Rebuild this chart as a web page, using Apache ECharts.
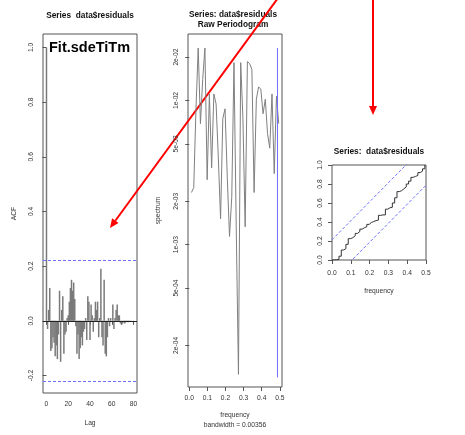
<!DOCTYPE html>
<html>
<head>
<meta charset="utf-8">
<script src="https://cdn.jsdelivr.net/npm/echarts@6.0.0/dist/echarts.min.js"></script>
<style>
	html, body { margin: 0; padding: 0; background: #fff; }
	#mychart { width: 465px; height: 435px; }
</style>
</head>
<body>
<div id="mychart"></div>
<script>
// ACF of the residuals, lag 0..80
var acfVal = [
	1.00, -0.03, 0.04, 0.12, -0.11, -0.10, -0.06, -0.08, -0.13, -0.09,
	-0.14, -0.05, 0.11, -0.15, 0.04, 0.09, -0.12, -0.05, -0.04, 0.01,
	0.02, 0.07, 0.12, 0.15, 0.11, 0.14, 0.08, -0.02, -0.12, -0.05,
	-0.14, -0.10, -0.06, -0.09, -0.04, -0.03, 0.01, -0.07, 0.09, 0.07,
	-0.07, 0.06, 0.02, -0.04, 0.01, 0.07, 0.04, 0.07, -0.06, 0.01,
	0.19, -0.06, -0.09, 0.15, -0.12, -0.13, -0.06, 0.01, -0.02, 0.01,
	0.00, 0.06, -0.03, 0.01, 0.04, 0.06, 0.02, 0.02, -0.01, -0.015,
	-0.01, -0.005, -0.01, -0.005, -0.003, -0.005, -0.002, -0.003, -0.001, 0.0, 0.0
];
var acfCI = 0.218;
var acfTicksX = [0, 20, 40, 60, 80];
var acfTicksY = [-0.2, 0, 0.2, 0.4, 0.6, 0.8, 1.0];

// raw periodogram
var specFreq = [
	0.0123, 0.0247, 0.0370, 0.0494, 0.0617, 0.0741, 0.0864, 0.0988, 0.1111, 0.1235,
	0.1358, 0.1481, 0.1605, 0.1728, 0.1852, 0.1975, 0.2099, 0.2222, 0.2346, 0.2469,
	0.2593, 0.2716, 0.2840, 0.2963, 0.3086, 0.3210, 0.3333, 0.3457, 0.3580, 0.3704,
	0.3827, 0.3951, 0.4074, 0.4198, 0.4321, 0.4444, 0.4568, 0.4691, 0.4815, 0.4938
];
var specVal = [
	0.00230, 0.00249, 0.00875, 0.0231, 0.00691, 0.0140, 0.0231, 0.00282, 0.0111, 0.00341,
	0.0111, 0.00946, 0.00399, 0.00151, 0.00748, 0.00875, 0.00292, 0.00114, 0.00213, 0.0183,
	0.00133, 0.000126, 0.0183, 0.00748, 0.00133, 0.0186, 0.0180, 0.0164, 0.00230, 0.0102,
	0.0124, 0.0120, 0.00809, 0.0102, 0.00590, 0.00467, 0.0111, 0.00311, 0.0107, 0.00691
];
var specTicksY = [2e-4, 5e-4, 1e-3, 2e-3, 5e-3, 1e-2, 2e-2];
var specTicksX = [0, 0.1, 0.2, 0.3, 0.4, 0.5];
var specCI = { x: 0.487, low: 0.000120, high: 0.0231 };

// cumulative periodogram
var cpFreq = [0].concat(specFreq);
var cpVal = [
	0, 0.003, 0.007, 0.04, 0.105, 0.12, 0.165, 0.225, 0.235, 0.255,
	0.28, 0.30, 0.325, 0.34, 0.35, 0.375, 0.395, 0.405, 0.415, 0.42,
	0.47, 0.475, 0.475, 0.535, 0.55, 0.555, 0.60, 0.655, 0.72, 0.73,
	0.75, 0.77, 0.80, 0.83, 0.87, 0.88, 0.89, 0.92, 0.935, 0.96, 1.0
];
var cpCrit = 0.213;

var FONT = '"Liberation Sans", Arial, sans-serif';
var BLUE = '#6f6fff';
var labelStyle = { fontFamily: FONT, fontSize: 6.7, color: '#333' };

function fmtExp(v) {
	var s = Math.pow(10, v).toExponential(0);
	return s.replace(/e([+-])(\d)$/, 'e$10$2');
}

function axisBase(extra) {
	var o = {
		type: 'value',
		axisLine: { show: false },
		axisTick: { show: true, inside: false, length: 4, lineStyle: { color: '#555' } },
		splitLine: { show: false },
		axisLabel: Object.assign({ margin: 7 }, labelStyle),
		nameTextStyle: labelStyle,
		nameLocation: 'middle'
	};
	return echarts.util.merge(o, extra, true);
}

function arrow(x1, y1, x2, y2) {
	var dx = x2 - x1, dy = y2 - y1;
	var len = Math.sqrt(dx * dx + dy * dy);
	var ux = dx / len, uy = dy / len;
	var hl = 9, hw = 4;
	var bx = x2 - ux * hl, by = y2 - uy * hl;
	return [{
		type: 'line',
		shape: { x1: x1, y1: y1, x2: bx, y2: by },
		style: { stroke: '#ff0000', lineWidth: 2 }
	}, {
		type: 'polygon',
		shape: { points: [[x2, y2], [bx + uy * hw, by - ux * hw], [bx - uy * hw, by + ux * hw]] },
		style: { fill: '#ff0000' }
	}];
}

function title(text, x, y) {
	return {
		type: 'text', x: x, y: y,
		style: {
			text: text, textAlign: 'center', textVerticalAlign: 'middle',
			align: 'center', verticalAlign: 'middle',
			font: 'bold 8.3px ' + FONT, fill: '#111'
		}
	};
}

var chart = echarts.init(document.getElementById('mychart'), null, { renderer: 'canvas' });

var option = {
	animation: false,
	backgroundColor: '#fff',
	grid: [
		{ left: 43, top: 34, width: 94, height: 359, show: true, borderColor: '#555', borderWidth: 1 },
		{ left: 188, top: 34, width: 94, height: 359, show: true, borderColor: '#555', borderWidth: 1 },
		{ left: 332, top: 165, width: 94, height: 95, show: true, borderColor: '#555', borderWidth: 1 }
	],
	xAxis: [
		axisBase({
			gridIndex: 0, min: -3.2, max: 83.2, name: 'Lag', nameGap: 25,
			axisTick: { customValues: acfTicksX },
			axisLabel: { customValues: acfTicksX, margin: 8 }
		}),
		axisBase({
			gridIndex: 1, min: -0.007, max: 0.512, name: 'frequency\nbandwidth = 0.00356', nameGap: 23,
			nameTextStyle: { lineHeight: 10 },
			axisTick: { customValues: specTicksX },
			axisLabel: { customValues: specTicksX, margin: 8, formatter: function(v) { return v.toFixed(1); } }
		}),
		axisBase({
			gridIndex: 2, min: 0, max: 0.5, interval: 0.1, name: 'frequency', nameGap: 26,
			axisLabel: { margin: 8, formatter: function(v) { return v.toFixed(1); } }
		})
	],
	yAxis: [
		axisBase({
			gridIndex: 0, min: -0.264, max: 1.049, name: 'ACF', nameGap: 24,
			axisTick: { customValues: acfTicksY },
			axisLabel: { customValues: acfTicksY, rotate: 90, formatter: function(v) { return v.toFixed(1); } }
		}),
		axisBase({
			gridIndex: 1, min: Math.log10(1.03e-4), max: Math.log10(0.0289), name: 'spectrum', nameGap: 25,
			axisTick: { customValues: specTicksY.map(Math.log10) },
			axisLabel: { customValues: specTicksY.map(Math.log10), rotate: 90, formatter: fmtExp }
		}),
		axisBase({
			gridIndex: 2, min: 0, max: 1, interval: 0.2, axisLabel: { rotate: 90, formatter: function(v) { return v.toFixed(1); } }
		})
	],
	series: [
		{
			name: 'acf',
			type: 'bar',
			xAxisIndex: 0, yAxisIndex: 0,
			barWidth: 1.5,
			itemStyle: { color: '#7a7a7a' },
			data: acfVal.map(function(v, i) { return [i, v]; }),
			markLine: {
				silent: true, symbol: 'none', label: { show: false },
				data: [
					{ yAxis: 0, lineStyle: { color: '#222', type: 'solid', width: 1 } },
					{ yAxis: acfCI, lineStyle: { color: BLUE, type: [3, 2], width: 1 } },
					{ yAxis: -acfCI, lineStyle: { color: BLUE, type: [3, 2], width: 1 } }
				]
			}
		},
		{
			name: 'spec',
			type: 'line',
			xAxisIndex: 1, yAxisIndex: 1,
			showSymbol: false,
			lineStyle: { color: '#808080', width: 1 },
			data: specFreq.map(function(f, i) { return [f, Math.log10(specVal[i])]; })
		},
		{
			name: 'ci',
			type: 'line',
			xAxisIndex: 1, yAxisIndex: 1,
			showSymbol: false,
			lineStyle: { color: BLUE, width: 1 },
			data: [[specCI.x, Math.log10(specCI.low)], [specCI.x, Math.log10(specCI.high)]]
		},
		{
			name: 'cpgram',
			type: 'line',
			xAxisIndex: 2, yAxisIndex: 2,
			step: 'end',
			showSymbol: false,
			lineStyle: { color: '#333', width: 1 },
			data: cpFreq.map(function(f, i) { return [f, cpVal[i]]; })
		},
		{
			name: 'upper',
			type: 'line',
			xAxisIndex: 2, yAxisIndex: 2,
			showSymbol: false,
			lineStyle: { color: BLUE, width: 1, type: [3, 2] },
			data: [[0, cpCrit], [0.5, 1 + cpCrit]]
		},
		{
			name: 'lower',
			type: 'line',
			xAxisIndex: 2, yAxisIndex: 2,
			showSymbol: false,
			lineStyle: { color: BLUE, width: 1, type: [3, 2] },
			data: [[0, -cpCrit], [0.5, 1 - cpCrit]]
		}
	],
	graphic: [
		title('Series  data$residuals', 90, 16),
		title('Series: data$residuals', 233, 15),
		title('Raw Periodogram', 233, 24.5),
		title('Series:  data$residuals', 379, 152),
		{
			type: 'text', x: 49, y: 47.5,
			style: {
				text: 'Fit.sdeTiTm', textVerticalAlign: 'middle', verticalAlign: 'middle',
				font: 'bold 14.5px ' + FONT, fill: '#000'
			}
		}
	].concat(arrow(278, -2, 110, 228), arrow(373, -2, 373, 115))
};

chart.setOption(option);
</script>
</body>
</html>
